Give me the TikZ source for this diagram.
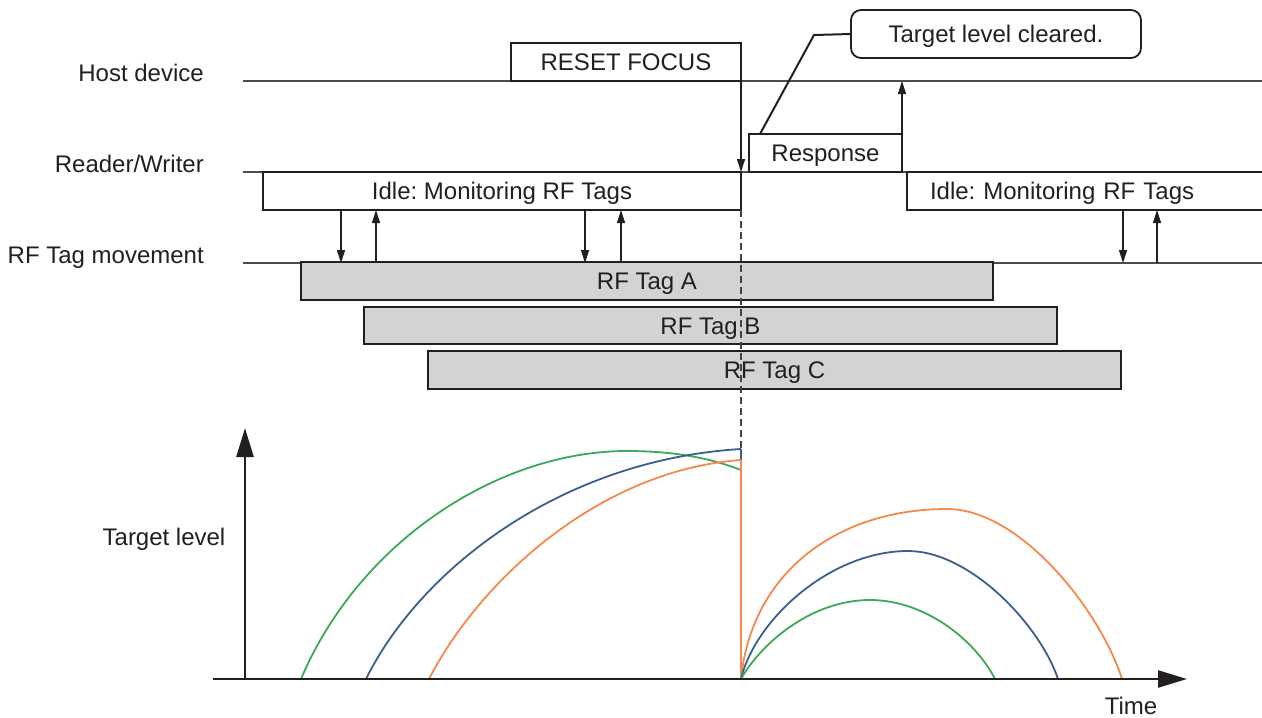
\documentclass[tikz,border=0pt]{standalone}
\usepackage{fontspec}
\setmainfont{Liberation Sans}
\usetikzlibrary{arrows.meta,calc}
\definecolor{tgreen}{HTML}{3BAA57}
\definecolor{tblue}{HTML}{3A5F8C}
\definecolor{torange}{HTML}{F3894A}
\definecolor{tagfill}{HTML}{D1D3D4}
\definecolor{ink}{HTML}{231F20}
\frenchspacing
\begin{document}
\begin{tikzpicture}[x=1pt,y=-1pt,
  font=\fontsize{24}{28}\selectfont,
  lbl/.style={anchor=base east, inner sep=0pt, text=ink},
  box/.style={draw=ink, line width=1.4pt, fill=white, inner sep=0pt, outer sep=0pt,
    anchor=north west, text height=17pt, text depth=0pt, text=ink},
  tagbox/.style={box, fill=tagfill, line width=2.2pt},
  tline/.style={draw=black!70, line width=1.3pt},
  sarr/.style={draw=ink, line width=1.1pt, -{Triangle[length=13pt,width=8pt]}},
  bigarr/.style={draw=ink, line width=2.6pt, -{Triangle[length=29pt,width=17pt]}},
  crv/.style={line width=1.8pt}]
\useasboundingbox (0,0) rectangle (1262,718);

% time lines
\coordinate (hostL) at (243,81);  \coordinate (hostR) at (1262,81);
\coordinate (rwL) at (243,172);   \coordinate (rwR) at (1262,172);
\coordinate (tgL) at (243,263);   \coordinate (tgR) at (1262,263);
\draw[tline] (hostL) -- (hostR);
\draw[tline] (rwL) -- (rwR);
\draw[tline] (tgL) -- (tgR);

% row labels
\node[lbl] (lhost) at (204,81) {Host device};
\node[lbl] (lrw) at (204,172) {Reader/Writer};
\node[lbl] (ltag) at (204,263) {RF Tag movement};

% boxes
\node[box, minimum width=230pt, minimum height=38pt] (reset) at (511,43) {RESET FOCUS};
\node[box, minimum width=153pt, minimum height=38pt] (resp) at (749,134) {Response};
\node[box, line width=1.8pt, rounded corners=10pt, minimum width=290pt, minimum height=48pt] (call) at (851,10) {Target level cleared.};
\node[box, minimum width=478pt, minimum height=38pt] (idle1) at (263,172) {Idle: Monitoring RF Tags};
\node[box, minimum width=380pt, minimum height=38pt, inner xsep=23pt, text width=334pt, align=left] (idle2) at (907,172) {Idle: Monitoring RF Tags};

% tags
\node[tagbox, minimum width=692pt, minimum height=38pt] (tagA) at (301,262) {RF Tag A};
\node[tagbox, minimum width=693pt, minimum height=37pt] (tagB) at (364,307) {RF Tag B};
\node[tagbox, minimum width=693pt, minimum height=38pt] (tagC) at (428,351) {RF Tag C};

% host/reader arrows
\draw[sarr] (reset.south east) -- (reset.south east |- rwL);
\draw[sarr] (resp.north east) -- (resp.north east |- hostL);
\draw[ink, line width=2pt] ([xshift=11pt]resp.north west) -- (814,35) -- (call.west);

% reader/tag arrows
\draw[sarr] ([xshift=78pt]idle1.south west) -- ([xshift=78pt]idle1.south west |- tgL);
\draw[sarr] ([xshift=113pt]idle1.south west |- tgL) -- ([xshift=113pt]idle1.south west);
\draw[sarr] ([xshift=322pt]idle1.south west) -- ([xshift=322pt]idle1.south west |- tgL);
\draw[sarr] ([xshift=358pt]idle1.south west |- tgL) -- ([xshift=358pt]idle1.south west);
\draw[sarr] ([xshift=216pt]idle2.south west) -- ([xshift=216pt]idle2.south west |- tgL);
\draw[sarr] ([xshift=250pt]idle2.south west |- tgL) -- ([xshift=250pt]idle2.south west);

% dashed reset marker
\coordinate (dashend) at (741,449);
\draw[ink!85, line width=1.4pt, dash pattern=on 7pt off 4pt] (idle1.south east) -- (dashend);

% axes
\coordinate (org) at (245,679);
\coordinate (ytip) at (245,428);
\coordinate (xstart) at (213,679);
\coordinate (xtip) at (1187,679);
\draw[bigarr] (org) -- (ytip);
\node[anchor=base, inner sep=0pt, text=ink] (ylab) at (164,545) {Target level};
\node[anchor=base, inner sep=0pt, text=ink] (xlab) at (1131,714) {Time};

% curves before reset
\draw[crv, tgreen] (301,679) .. controls (360,540) and (500,451) .. (627,451)
   .. controls (680,451) and (715,460) .. (741,470);
\draw[crv, tblue] (366,679) .. controls (420,570) and (560,460) .. (741,449);
\draw[tblue, line width=1.8pt] (741,449) -- (741,462);
\draw[crv, torange] (429,679) .. controls (480,580) and (600,470) .. (741,460);
\draw[torange, line width=1.8pt] (741,460) -- (741,679);

% curves after reset
\draw[crv, torange] (741,679) .. controls (752,570) and (840,509) .. (947,509)
   .. controls (1020,509) and (1100,610) .. (1122,679);
\draw[crv, tblue] (741,679) .. controls (755,620) and (830,551) .. (908,551)
   .. controls (970,551) and (1040,625) .. (1058,679);
\draw[crv, tgreen] (741,679) .. controls (760,645) and (810,600) .. (870,600)
   .. controls (925,600) and (975,640) .. (995,679);
\draw[bigarr] (xstart) -- (xtip);
\end{tikzpicture}
\end{document}
